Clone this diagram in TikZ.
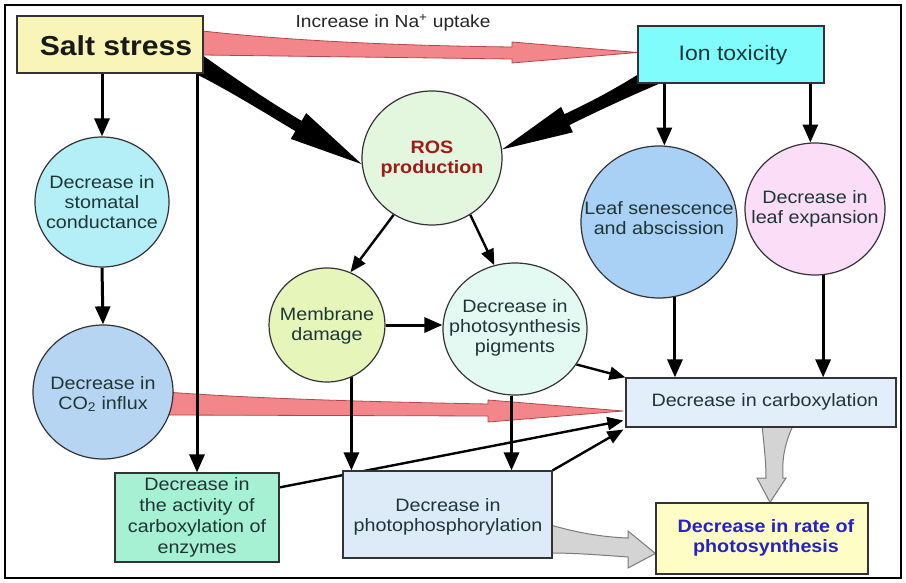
\documentclass[tikz,border=0pt]{standalone}
\usepackage{fontspec}
\setmainfont{Liberation Sans}[FakeStretch=1.1]
\usetikzlibrary{shapes.geometric,arrows.meta,backgrounds,calc}
\definecolor{edgec}{HTML}{333333}
\definecolor{txtc}{HTML}{1F3636}
\definecolor{saltc}{HTML}{F9F5B9}
\definecolor{ionc}{HTML}{80FCFC}
\definecolor{stomc}{HTML}{B4EEF6}
\definecolor{rosc}{HTML}{E3F7DF}
\definecolor{leafsc}{HTML}{A9D0F5}
\definecolor{leafec}{HTML}{FBDDF8}
\definecolor{memc}{HTML}{E6F6BA}
\definecolor{pigc}{HTML}{E3FAF3}
\definecolor{coc}{HTML}{B6D5F3}
\definecolor{actc}{HTML}{A6F0D3}
\definecolor{photoc}{HTML}{DDEBF8}
\definecolor{carbc}{HTML}{E2EEF9}
\definecolor{ratec}{HTML}{FFFDC6}
\definecolor{rosred}{HTML}{A11A1A}
\definecolor{rateblue}{HTML}{2323C8}
\definecolor{pinkc}{HTML}{F3868A}
\definecolor{pinkd}{HTML}{B04848}
\definecolor{greyf}{HTML}{D4D4D4}
\definecolor{greyd}{HTML}{7A7A7A}
\newcommand\mytxt{\fontsize{18}{20}\selectfont}
\begin{document}
\begin{tikzpicture}[x=1bp,y=-1bp,
  circ/.style={ellipse, draw=edgec, line width=1.2bp, inner sep=0pt},
  box/.style={rectangle, draw=edgec, line width=1.2bp, inner sep=0pt},
  lbl/.style={align=center, text=txtc, font=\mytxt, inner sep=0pt},
  arr/.style={line width=3bp, -{Triangle[length=18bp,width=15bp]}},
  arrt/.style={line width=2.4bp, -{Triangle[length=16bp,width=13bp]}},
  pinkarrow/.style={fill=pinkc, draw=pinkd, line width=0.8bp},
  greyarrow/.style={fill=greyf, draw=greyd, line width=1bp},
  wedge/.style={fill=black}]
\useasboundingbox (0,0) rectangle (906,583);

% boxes
\node[box, fill=saltc, minimum width=186bp, minimum height=57bp] (salt) at (110,44.5) {};
\node[box, fill=ionc, minimum width=186bp, minimum height=57bp] (ion) at (731,54.5) {};
\node[box, fill=actc, minimum width=164bp, minimum height=89bp] (act) at (197,517.5) {};
\node[box, fill=photoc, minimum width=209bp, minimum height=87bp] (photo) at (447.5,514.5) {};
\node[box, fill=carbc, minimum width=270bp, minimum height=49bp] (carb) at (761,402.5) {};
\node[box, fill=ratec, minimum width=212bp, minimum height=71bp] (rate) at (762,538.5) {};

% circles
\node[circ, fill=stomc, minimum width=134bp, minimum height=130bp] (stom) at (102,202) {};
\node[circ, fill=coc, minimum width=140bp, minimum height=134bp] (co2) at (103,392) {};
\node[circ, fill=rosc, minimum width=140bp, minimum height=134bp] (ros) at (432,158) {};
\node[circ, fill=leafsc, minimum width=156bp, minimum height=152bp] (leafS) at (659,222) {};
\node[circ, fill=leafec, minimum width=140bp, minimum height=132bp] (leafE) at (815,209) {};
\node[circ, fill=memc, minimum width=116bp, minimum height=114bp] (mem) at (327,325) {};
\node[circ, fill=pigc, minimum width=144bp, minimum height=132bp] (pig) at (515,329) {};

% texts
\node[inner sep=0pt, text=black!90, font=\fontsize{27.5}{30}\selectfont\bfseries] (saltT) at (116,46) {Salt stress};
\node[lbl, font=\fontsize{21}{24}\selectfont] (ionT) at (733,55) {Ion toxicity};
\node[inner sep=0pt, text=black!85, font=\fontsize{17.5}{20}\selectfont] (naT) at (393,23) {Increase in Na\textsuperscript{+} uptake};
\node[lbl] (stomT) at (102,202) {Decrease in\\stomatal\\conductance};
\node[lbl] (co2T) at (103,394) {Decrease in\\CO\textsubscript{2} influx};
\node[lbl, text=rosred, font=\mytxt\bfseries] (rosT) at (432,159) {ROS\\production};
\node[lbl] (leafST) at (659,218) {Leaf senescence\\and abscission};
\node[lbl] (leafET) at (815,209) {Decrease in\\leaf expansion};
\node[lbl] (memT) at (327,326) {Membrane\\damage};
\node[lbl] (pigT) at (515,328) {Decrease in\\photosynthesis\\pigments};
\node[lbl, font=\fontsize{18}{21}\selectfont] (actT) at (197,517) {Decrease in\\the activity of\\carboxylation of\\enzymes};
\node[lbl] (photoT) at (448,517) {Decrease in\\photophosphorylation};
\node[lbl] (carbT) at (765,402) {Decrease in carboxylation};
\node[lbl, text=rateblue, font=\mytxt\bfseries] (rateT) at (766,538) {Decrease in rate of\\photosynthesis};

\begin{pgfonlayer}{background}
\fill[white] (0,0) rectangle (906,583);
% pink arrows
\filldraw[pinkarrow] ($(salt.east)+(-1,-13.5)$) .. controls (300,42) and (420,46) .. (512,47)
  -- (512,42) -- ($(ion.west)+(0,-2)$) -- (512,63) -- (512,59) -- ($(salt.east)+(-1,10.5)$) -- cycle;
\filldraw[pinkarrow] ($(co2.east)+(-8,0)$) .. controls (260,399) and (380,402) .. (488,404)
  -- (488,400) -- ($(carb.west)+(-2,8.5)$) -- (488,422) -- (488,416) -- ($(co2.east)+(-8,23)$) -- cycle;
% grey arrows
\filldraw[greyarrow] ($(carb.south)+(1,-2)$) .. controls (764,445) and (766,462) .. (766,478)
  -- (757,478) -- ($(rate.north)+(8,0)$) -- (786,478) -- (783,478)
  .. controls (782,460) and (784,445) .. ($(carb.south)+(32,-2)$) -- cycle;
\filldraw[greyarrow] ($(photo.east)+(-2,10.5)$) .. controls (575,532) and (600,537) .. (628,538)
  -- (628,531) -- ($(rate.west)+(0,15)$) -- (628,568) -- (628,557)
  .. controls (600,555) and (575,553) .. ($(photo.east)+(-2,38.5)$) -- cycle;
% black wedges
\fill[wedge] (198,52) .. controls (240,82) and (270,102) .. (301.6,120.9) -- (306.2,113.1) -- (ros.185) -- (290.8,138.9) -- (295.4,131.1) .. controls (260,110) and (225,88) .. (188,70) -- cycle;
\fill[wedge] (642,72) .. controls (610,92) and (590,102) .. (564.5,114.2) -- (561.1,106.9) -- (ros.7) -- (572.9,132.3) -- (569.5,125) .. controls (600,110) and (630,96) .. (668,80) -- cycle;
% black connectors
\draw[arr] (stom.north |- salt.south) -- (stom.north);
\draw[arr] (stom.south) -- (co2.north);
\draw[arr] (act.north |- salt.south) -- (act.north);
\draw[arrt] (ros.236) -- (mem.66);
\draw[arrt] (ros.304) -- (pig.108);
\draw[arr] (mem.east) -- (mem.east -| pig.west);
\draw[arr] (leafS.86 |- ion.south) -- (leafS.86);
\draw[arr] (leafE.94 |- ion.south) -- (leafE.94);
\draw[arr] (leafS.-78) -- (leafS.-78 |- carb.north);
\draw[arr] (leafE.-83) -- (leafE.-83 |- carb.north);
\draw[arrt] (pig.-30) -- (carb.north west);
\draw[arr] (pig.-93) -- (pig.-93 |- photo.north);
\draw[arr] (mem.-65) -- (mem.-65 |- photo.north);
\draw[arrt] ($(act.north east)+(0,15)$) -- ($(carb.west)+(-2,18)$);
\draw[arrt] (photo.north east) -- ($(carb.west)+(-2,27)$);
\end{pgfonlayer}

\draw[line width=2bp] (5,5) rectangle (901,578);
\end{tikzpicture}
\end{document}
